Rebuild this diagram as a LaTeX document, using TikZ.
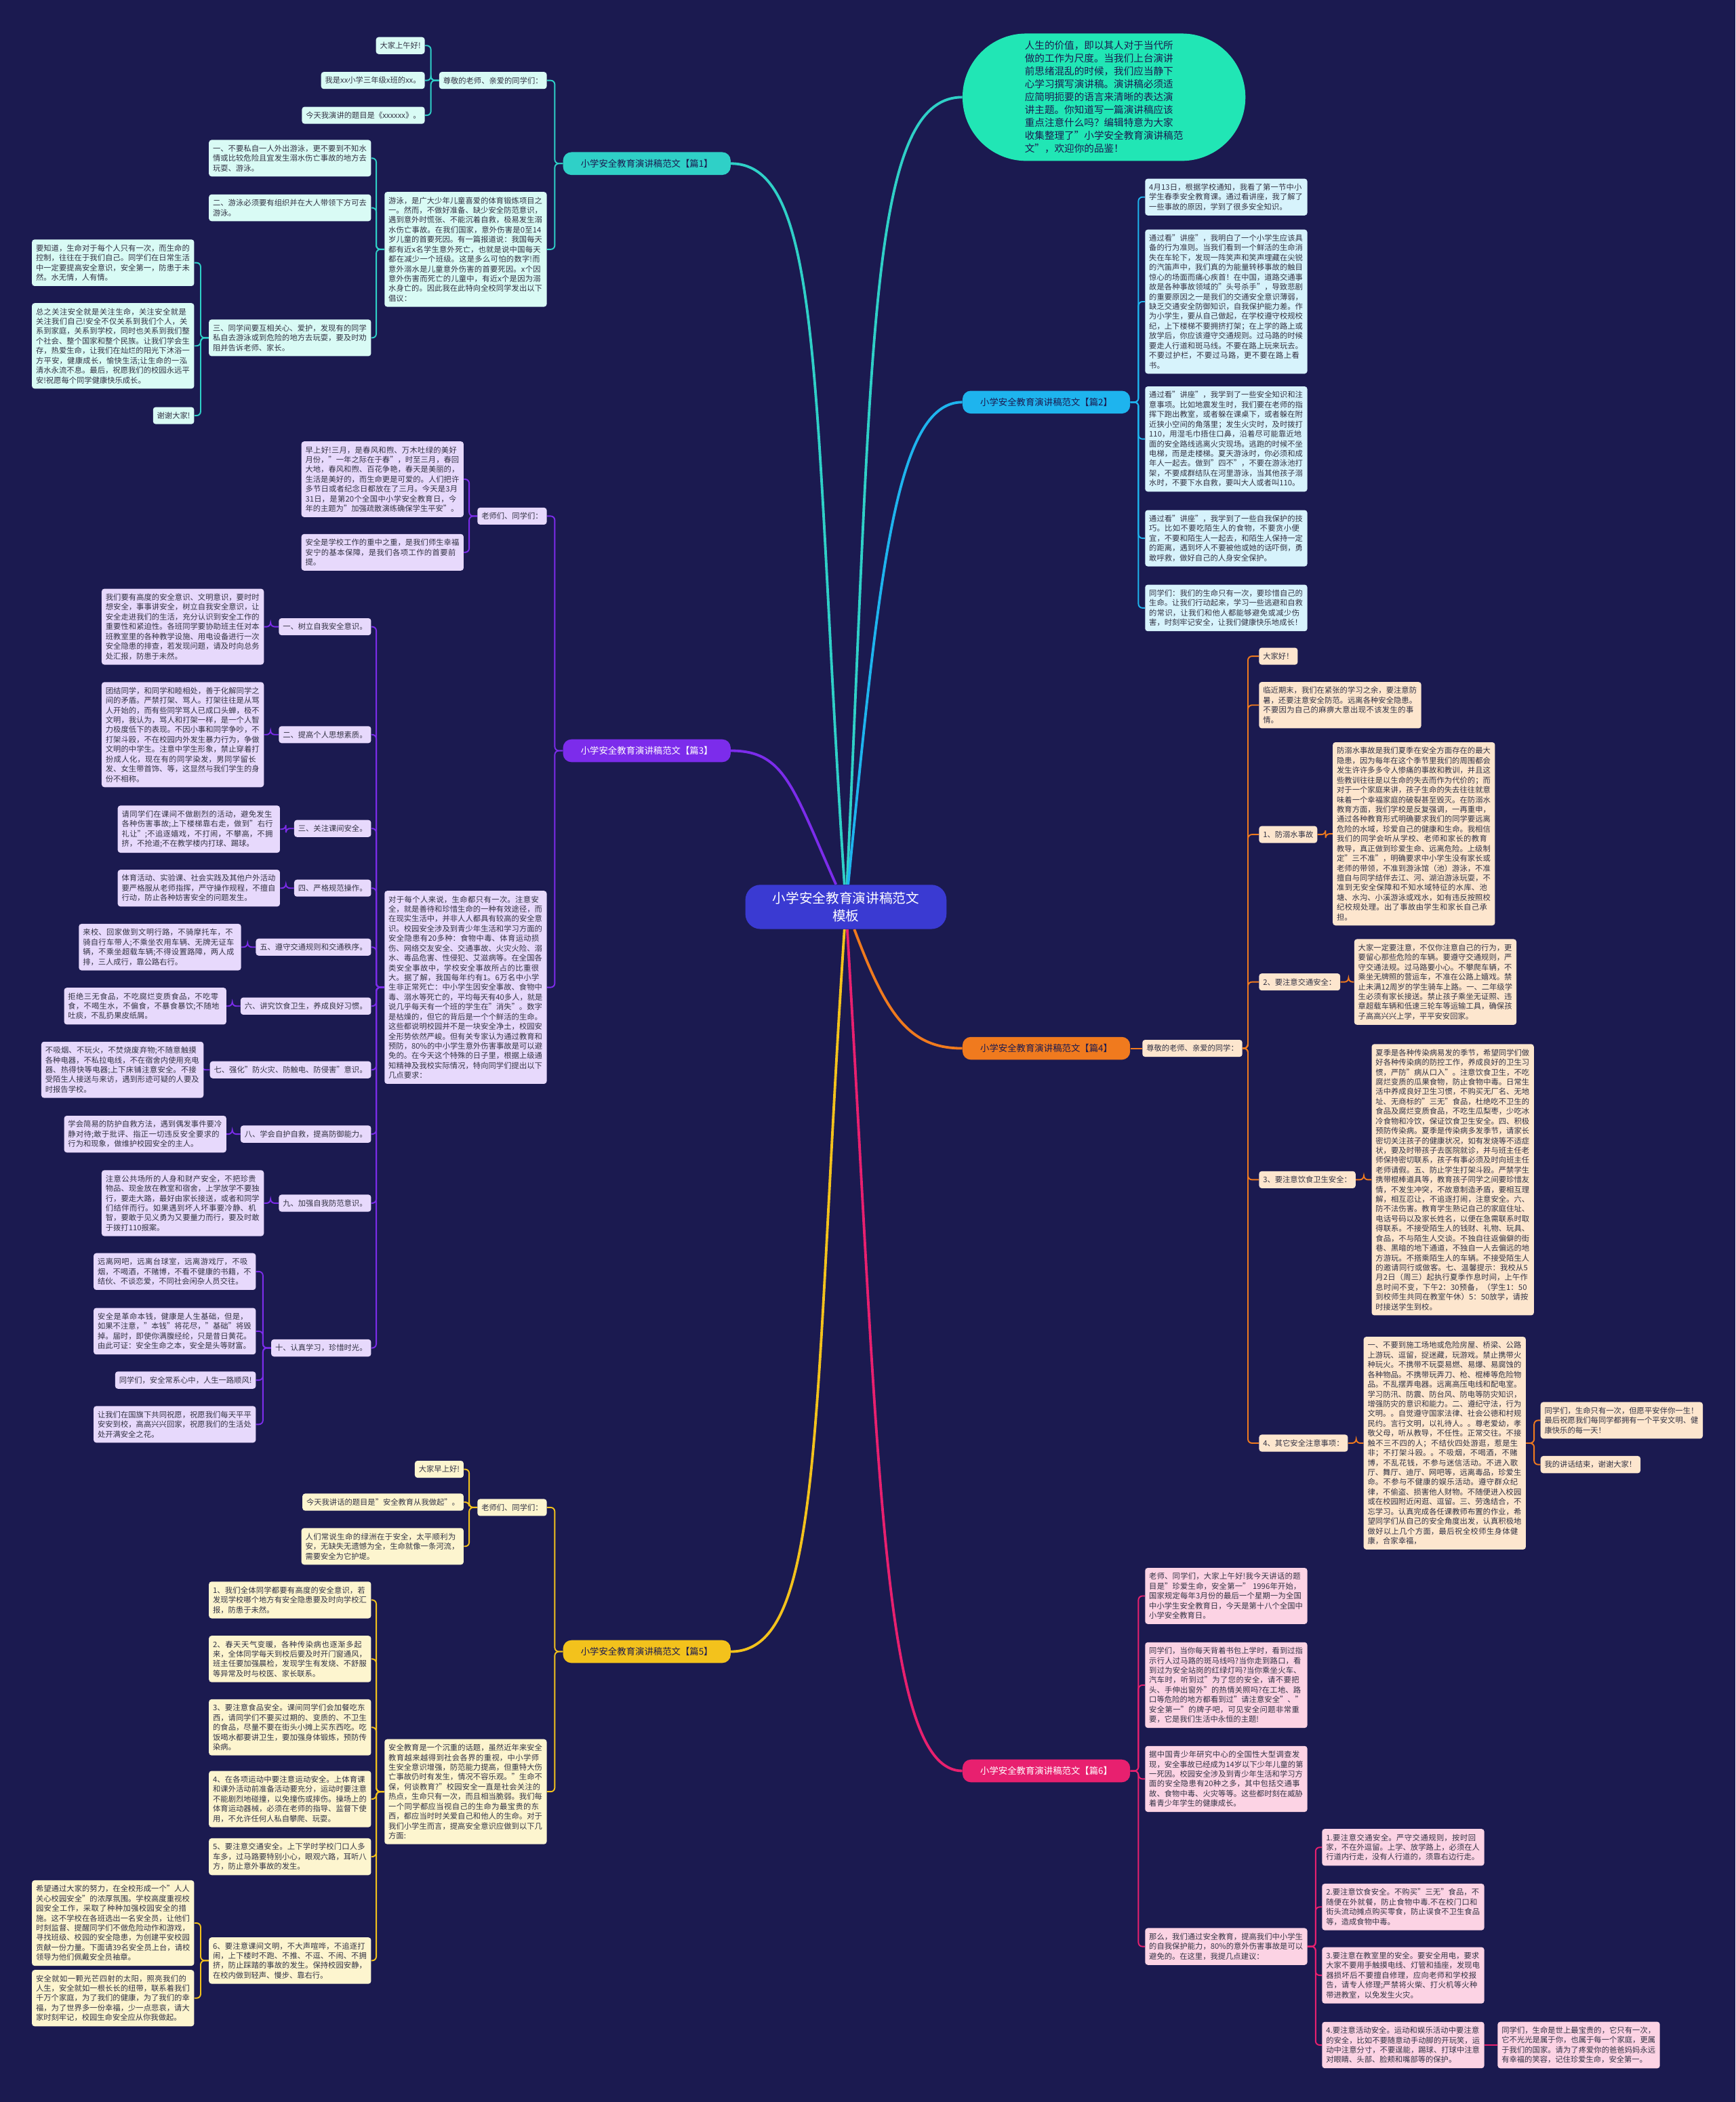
\documentclass[tikz,border=0pt]{standalone}
\usepackage{fontspec}
\setmainfont{Noto Sans CJK SC}
\XeTeXlinebreaklocale "zh"
\XeTeXlinebreakskip = 0pt plus 1pt
\usetikzlibrary{positioning}
\definecolor{bgnavy}{HTML}{1B1A50}
\definecolor{rootblue}{HTML}{3A3AD2}
\definecolor{mint}{HTML}{21E6B5}
\definecolor{leafink}{HTML}{333344}
\definecolor{line1}{HTML}{2FD0C7}\definecolor{fill1}{HTML}{D9FBF5}
\definecolor{line2}{HTML}{1EB4EE}\definecolor{fill2}{HTML}{D7F3FC}
\definecolor{line3}{HTML}{7C2CEB}\definecolor{fill3}{HTML}{E7D9FC}
\definecolor{line4}{HTML}{F07A1E}\definecolor{fill4}{HTML}{FDE6CE}
\definecolor{line5}{HTML}{F3C21C}\definecolor{fill5}{HTML}{FDF5CF}
\definecolor{line6}{HTML}{E8206F}\definecolor{fill6}{HTML}{FCD3E4}
\pgfdeclarelayer{background}
\pgfdeclarelayer{links}
\pgfsetlayers{background,links,main}
\tikzset{
  rootbox/.style={fill=rootblue, text=white, rounded corners=0.45cm, minimum width=6cm, minimum height=1.32cm, align=center, font=\fontsize{11.3}{15}\selectfont},
  bubblebox/.style={fill=mint, text=bgnavy, rounded corners=1.9cm, minimum width=8.44cm, minimum height=3.8cm, align=left, font=\fontsize{8.4}{10.9}\selectfont},
  topicbox/.style={rounded corners=0.25cm, minimum width=5cm, minimum height=0.68cm, inner sep=2pt, font=\fontsize{7.7}{9}\selectfont},
  topic1/.style={topicbox, fill=line1, text=bgnavy},
  topic2/.style={topicbox, fill=line2, text=bgnavy},
  topic3/.style={topicbox, fill=line3, text=white},
  topic4/.style={topicbox, fill=line4, text=bgnavy},
  topic5/.style={topicbox, fill=line5, text=bgnavy},
  topic6/.style={topicbox, fill=line6, text=white},
  leafbox/.style={rounded corners=0.08cm, inner xsep=3.4pt, inner ysep=4.2pt, text=leafink, align=left, font=\fontsize{6.5}{8.3}\selectfont},
  longtext/.style={text width=4.6cm},
  leaf1/.style={leafbox, fill=fill1},
  leaf2/.style={leafbox, fill=fill2},
  leaf3/.style={leafbox, fill=fill3},
  leaf4/.style={leafbox, fill=fill4},
  leaf5/.style={leafbox, fill=fill5},
  leaf6/.style={leafbox, fill=fill6},
  linkbase/.style={line width=1.1pt, rounded corners=1.2mm},
  link1/.style={linkbase, draw=line1},
  link2/.style={linkbase, draw=line2},
  link3/.style={linkbase, draw=line3},
  link4/.style={linkbase, draw=line4},
  link5/.style={linkbase, draw=line5},
  link6/.style={linkbase, draw=line6},
  rootlink/.style={line width=2.2pt}
}
\begin{document}
\begin{tikzpicture}[x=0.04cm, y=-0.04cm]
\begin{pgfonlayer}{background}
  \fill[bgnavy] (0,0) rectangle (1294.5,1568);
\end{pgfonlayer}
\useasboundingbox (0,0) rectangle (1294.5,1568);

\node[rootbox] (root) at (631,676.5) {小学安全教育演讲稿范文\\模板};
\node[bubblebox] (intro) at (823.5,72.5) {人生的价值，即以其人对于当代所\\做的工作为尺度。当我们上台演讲\\前思绪混乱的时候，我们应当静下\\心学习撰写演讲稿。演讲稿必须适\\应简明扼要的语言来清晰的表达演\\讲主题。你知道写一篇演讲稿应该\\重点注意什么吗？编辑特意为大家\\收集整理了"小学安全教育演讲稿范\\文"，欢迎你的品鉴！};

\node[topic1] (p1) at (482.5,122) {小学安全教育演讲稿范文【篇1】};
\node[topic2] (p2) at (780.5,300) {小学安全教育演讲稿范文【篇2】};
\node[topic3] (p3) at (482.5,560) {小学安全教育演讲稿范文【篇3】};
\node[topic4] (p4) at (780.5,782) {小学安全教育演讲稿范文【篇4】};
\node[topic5] (p5) at (482.5,1232) {小学安全教育演讲稿范文【篇5】};
\node[topic6] (p6) at (780.5,1321) {小学安全教育演讲稿范文【篇6】};

% 篇1
\node[leaf1, anchor=east] (a1) at (408,60) {尊敬的老师、亲爱的同学们：};
\node[leaf1, anchor=east] (a1x) at (317,34) {大家上午好!};
\node[leaf1, anchor=east] (a1y) at (317,60) {我是xx小学三年级x班的xx。};
\node[leaf1, anchor=east] (a1z) at (317,86) {今天我演讲的题目是《xxxxxx》。};
\node[leaf1, longtext, anchor=east] (b1) at (408,186) {游泳，是广大少年儿童喜爱的体育锻炼项目之一。然而，不做好准备、缺少安全防范意识，遇到意外时慌张、不能沉着自救，极易发生溺水伤亡事故。在我们国家，意外伤害是0至14岁儿童的首要死因。有一篇报道说：我国每天都有近x名学生意外死亡，也就是说中国每天都在减少一个班级。这是多么可怕的数字!而意外溺水是儿童意外伤害的首要死因。x个因意外伤害而死亡的儿童中，有近x个是因为溺水身亡的。因此我在此特向全校同学发出以下倡议：};
\node[leaf1, longtext, anchor=east] (c1) at (277,118) {一、不要私自一人外出游泳，更不要到不知水情或比较危险且宜发生溺水伤亡事故的地方去玩耍、游泳。};
\node[leaf1, longtext, anchor=east] (c2) at (277,155) {二、游泳必须要有组织并在大人带领下方可去游泳。};
\node[leaf1, longtext, anchor=east] (c3) at (277,252) {三、同学间要互相关心、爱护，发现有的同学私自去游泳或到危险的地方去玩耍，要及时劝阻并告诉老师、家长。};
\node[leaf1, longtext, anchor=east] (d1) at (145,196) {要知道，生命对于每个人只有一次，而生命的控制，往往在于我们自己。同学们在日常生活中一定要提高安全意识，安全第一，防患于未然。水无情，人有情。};
\node[leaf1, longtext, anchor=east] (d2) at (145,258) {总之关注安全就是关注生命，关注安全就是关注我们自己!安全不仅关系到我们个人，关系到家庭，关系到学校，同时也关系到我们整个社会、整个国家和整个民族。让我们学会生存，热爱生命，让我们在灿烂的阳光下沐浴一方平安，健康成长，愉快生活;让生命的一泓清水永流不息。最后，祝愿我们的校园永远平安!祝愿每个同学健康快乐成长。};
\node[leaf1, anchor=east] (d3) at (145,310) {谢谢大家!};

% 篇2
\node[leaf2, longtext, anchor=west] (e1) at (854,147) {4月13日，根据学校通知，我看了第一节中小学生春季安全教育课。通过看讲座，我了解了一些事故的原因，学到了很多安全知识。};
\node[leaf2, longtext, anchor=west] (e2) at (854,225) {通过看"讲座"，我明白了一个小学生应该具备的行为准则。当我们看到一个鲜活的生命消失在车轮下，发现一阵笑声和笑声埋藏在尖锐的汽笛声中，我们真的为能量转移事故的触目惊心的场面而痛心疾首！在中国，道路交通事故是各种事故领域的"头号杀手"，导致悲剧的重要原因之一是我们的交通安全意识薄弱，缺乏交通安全防御知识，自我保护能力差。作为小学生，要从自己做起，在学校遵守校规校纪，上下楼梯不要拥挤打架；在上学的路上或放学后，你应该遵守交通规则。过马路的时候要走人行道和斑马线。不要在路上玩来玩去。不要过护栏，不要过马路，更不要在路上看书。};
\node[leaf2, longtext, anchor=west] (e3) at (854,327.5) {通过看"讲座"，我学到了一些安全知识和注意事项。比如地震发生时，我们要在老师的指挥下跑出教室，或者躲在课桌下，或者躲在附近狭小空间的角落里；发生火灾时，及时拨打110，用湿毛巾捂住口鼻，沿着尽可能靠近地面的安全路线逃离火灾现场。逃跑的时候不坐电梯，而是走楼梯。夏天游泳时，你必须和成年人一起去。做到"四不"，不要在游泳池打架，不要成群结队在河里游泳，当其他孩子溺水时，不要下水自救，要叫大人或者叫110。};
\node[leaf2, longtext, anchor=west] (e4) at (854,401.5) {通过看"讲座"，我学到了一些自我保护的技巧。比如不要吃陌生人的食物，不要贪小便宜，不要和陌生人一起去，和陌生人保持一定的距离，遇到坏人不要被他或她的话吓倒，勇敢呼救，做好自己的人身安全保护。};
\node[leaf2, longtext, anchor=west] (e5) at (854,453.5) {同学们：我们的生命只有一次，要珍惜自己的生命。让我们行动起来，学习一些逃避和自救的常识，让我们和他人都能够避免或减少伤害，时刻牢记安全，让我们健康快乐地成长！};

% 篇3
\node[leaf3, anchor=east] (f1) at (408,385) {老师们、同学们：};
\node[leaf3, longtext, anchor=east] (f1a) at (346,357.5) {早上好!三月，是春风和煦、万木吐绿的美好月份，"一年之际在于春"，时至三月，春回大地，春风和煦、百花争艳，春天是美丽的，生活是美好的，而生命更是可爱的。人们把许多节日或者纪念日都放在了三月。今天是3月31日，是第20个全国中小学安全教育日，今年的主题为"加强疏散演练确保学生平安"。};
\node[leaf3, longtext, anchor=east] (f1b) at (346,412) {安全是学校工作的重中之重，是我们师生幸福安宁的基本保障，是我们各项工作的首要前提。};
\node[leaf3, longtext, anchor=east] (f2) at (408,736.5) {对于每个人来说，生命都只有一次。注意安全，就是善待和珍惜生命的一种有效途径，而在现实生活中，并非人人都具有较高的安全意识。校园安全涉及到青少年生活和学习方面的安全隐患有20多种：食物中毒、体育运动损伤、网络交友安全、交通事故、火灾火险、溺水、毒品危害、性侵犯、艾滋病等。在全国各类安全事故中，学校安全事故所占的比重很大。据了解，我国每年约有1。6万名中小学生非正常死亡：中小学生因安全事故、食物中毒、溺水等死亡的，平均每天有40多人，就是说几乎每天有一个班的学生在"消失"。数字是枯燥的，但它的背后是一个个鲜活的生命。这些都说明校园并不是一块安全净土，校园安全形势依然严峻。但有关专家认为通过教育和预防，80\%的中小学生意外伤害事故是可以避免的。在今天这个特殊的日子里，根据上级通知精神及我校实际情况，特向同学们提出以下几点要求：};
\node[leaf3, anchor=east] (g1) at (277,467.5) {一、树立自我安全意识。};
\node[leaf3, anchor=east] (g2) at (277,548) {二、提高个人思想素质。};
\node[leaf3, anchor=east] (g3) at (277,618) {三、关注课间安全。};
\node[leaf3, anchor=east] (g4) at (277,662.5) {四、严格规范操作。};
\node[leaf3, anchor=east] (g5) at (277,706.5) {五、遵守交通规则和交通秩序。};
\node[leaf3, anchor=east] (g6) at (277,750.5) {六、讲究饮食卫生，养成良好习惯。};
\node[leaf3, anchor=east] (g7) at (277,798) {七、强化"防火灾、防触电、防侵害"意识。};
\node[leaf3, anchor=east] (g8) at (277,846) {八、学会自护自救，提高防御能力。};
\node[leaf3, anchor=east] (g9) at (277,897.5) {九、加强自我防范意识。};
\node[leaf3, anchor=east] (g10) at (277,1005.5) {十、认真学习，珍惜时光。};
\node[leaf3, longtext, anchor=east] (h1) at (197,467.5) {我们要有高度的安全意识、文明意识，要时时想安全，事事讲安全，树立自我安全意识，让安全走进我们的生活，充分认识到安全工作的重要性和紧迫性。各班同学要协助班主任对本班教室里的各种教学设施、用电设备进行一次安全隐患的排查，若发现问题，请及时向总务处汇报，防患于未然。};
\node[leaf3, longtext, anchor=east] (h2) at (197,548) {团结同学，和同学和睦相处，善于化解同学之间的矛盾。严禁打架、骂人。打架往往是从骂人开始的，而有些同学骂人已成口头蝉，极不文明，我认为，骂人和打架一样，是一个人智力极度低下的表现。不因小事和同学争吵，不打架斗殴，不在校园内外发生暴力行为，争做文明的中学生。注意中学生形象，禁止穿着打扮成人化，现在有的同学染发，男同学留长发、女生带首饰、等，这显然与我们学生的身份不相称。};
\node[leaf3, longtext, anchor=east] (h3) at (209,618.5) {请同学们在课间不做剧烈的活动，避免发生各种伤害事故;上下楼梯靠右走，做到"右行礼让";不追逐嬉戏，不打闹，不攀高，不拥挤，不抢道;不在教学楼内打球、踢球。};
\node[leaf3, longtext, anchor=east] (h4) at (209,662.5) {体育活动、实验课、社会实践及其他户外活动要严格服从老师指挥，严守操作规程，不擅自行动，防止各种妨害安全的问题发生。};
\node[leaf3, longtext, anchor=east] (h5) at (180,706.5) {来校、回家做到文明行路，不骑摩托车，不骑自行车带人;不乘坐农用车辆、无牌无证车辆，不乘坐超载车辆;不得设置路障，两人成排，三人成行，靠公路右行。};
\node[leaf3, longtext, anchor=east] (h6) at (169,750.5) {拒绝三无食品，不吃腐烂变质食品，不吃零食，不喝生水，不偏食，不暴食暴饮;不随地吐痰，不乱扔果皮纸屑。};
\node[leaf3, longtext, anchor=east] (h7) at (152,798) {不吸烟、不玩火，不焚烧废弃物;不随意触摸各种电器，不私拉电线，不在宿舍内使用充电器、热得快等电器;上下床铺注意安全。不接受陌生人接送与来访，遇到形迹可疑的人要及时报告学校。};
\node[leaf3, longtext, anchor=east] (h8) at (169,846) {学会简易的防护自救方法，遇到偶发事件要冷静对待;敢于批评、指正一切违反安全要求的行为和现象，做维护校园安全的主人。};
\node[leaf3, longtext, anchor=east] (h9) at (197,897.5) {注意公共场所的人身和财产安全，不把珍贵物品、现金放在教室和宿舍，上学放学不要独行，要走大路，最好由家长接送，或者和同学们结伴而行。如果遇到坏人坏事要冷静、机智，要敢于见义勇为又要量力而行，要及时敢于拨打110报案。};
\node[leaf3, longtext, anchor=east] (h10a) at (191,948.5) {远离网吧，远离台球室，远离游戏厅，不吸烟，不喝酒，不赌博，不看不健康的书籍，不结伙、不谈恋爱，不同社会闲杂人员交往。};
\node[leaf3, longtext, anchor=east] (h10b) at (191,993) {安全是革命本钱，健康是人生基础，但是，如果不注意，"本钱"将花尽，"基础"将毁掉。届时，即使你满腹经纶，只是昔日黄花。由此可证：安全生命之本，安全是头等财富。};
\node[leaf3, anchor=east] (h10c) at (191,1029.5) {同学们，安全常系心中，人生一路顺风!};
\node[leaf3, longtext, anchor=east] (h10d) at (191,1062.5) {让我们在国旗下共同祝愿，祝愿我们每天平平安安到校，高高兴兴回家，祝愿我们的生活处处开满安全之花。};

% 篇4
\node[leaf4, anchor=west] (k0) at (852,782) {尊敬的老师、亲爱的同学：};
\node[leaf4, anchor=west] (k1) at (939,489.5) {大家好！};
\node[leaf4, longtext, anchor=west] (k2) at (939,526) {临近期末，我们在紧张的学习之余，要注意防暑，还要注意安全防范。远离各种安全隐患。不要因为自己的麻痹大意出现不该发生的事情。};
\node[leaf4, anchor=west] (k3) at (939,622.5) {1、防溺水事故};
\node[leaf4, anchor=west] (k4) at (939,732.5) {2、要注意交通安全：};
\node[leaf4, anchor=west] (k5) at (939,880) {3、要注意饮食卫生安全：};
\node[leaf4, anchor=west] (k6) at (939,1076.5) {4、其它安全注意事项：};
\node[leaf4, longtext, anchor=west] (m3) at (994,622) {防溺水事故是我们夏季在安全方面存在的最大隐患，因为每年在这个季节里我们的周围都会发生许许多多令人惨痛的事故和教训，并且这些教训往往是以生命的失去而作为代价的；而对于一个家庭来讲，孩子生命的失去往往就意味着一个幸福家庭的破裂甚至毁灭。在防溺水教育方面，我们学校是反复强调，一再重申，通过各种教育形式明确要求我们的同学要远离危险的水域，珍爱自己的健康和生命。我相信我们的同学会听从学校、老师和家长的教育教导，真正做到珍爱生命、远离危险。上级制定"三不准"，明确要求中小学生没有家长或老师的带领，不准到游泳馆（池）游泳，不准擅自与同学结伴去江、河、湖泊游泳玩耍，不准到无安全保障和不知水域特征的水库、池塘、水沟、小溪游泳或戏水，如有违反按照校纪校规处理。出了事故由学生和家长自己承担。};
\node[leaf4, longtext, anchor=west] (m4) at (1010,732.5) {大家一定要注意，不仅你注意自己的行为，更要留心那些危险的车辆。要遵守交通规则，严守交通法规。过马路要小心。不攀爬车辆，不乘坐无牌照的营运车，不准在公路上嬉戏。禁止未满12周岁的学生骑车上路。一、二年级学生必须有家长接送。禁止孩子乘坐无证照、违章超载车辆和低速三轮车等运输工具，确保孩子高高兴兴上学，平平安安回家。};
\node[leaf4, longtext, anchor=west] (m5) at (1023,880) {夏季是各种传染病易发的季节，希望同学们做好各种传染病的防控工作，养成良好的卫生习惯，严防"病从口入"。注意饮食卫生，不吃腐烂变质的瓜果食物，防止食物中毒。日常生活中养成良好卫生习惯，不购买无厂名、无地址、无商标的"三无"食品，杜绝吃不卫生的食品及腐烂变质食品，不吃生瓜梨枣，少吃冰冷食物和冷饮，保证饮食卫生安全。四、积极预防传染病。夏季是传染病多发季节，请家长密切关注孩子的健康状况，如有发烧等不适症状，要及时带孩子去医院就诊，并与班主任老师保持密切联系，孩子有事必须及时向班主任老师请假。五、防止学生打架斗殴。严禁学生携带棍棒道具等，教育孩子同学之间要珍惜友情，不发生冲突，不故意制造矛盾，要相互理解，相互忍让，不追逐打闹，注意安全。六、防不法伤害。教育学生熟记自己的家庭住址、电话号码以及家长姓名，以便在急需联系时取得联系。不接受陌生人的钱财、礼物、玩具、食品，不与陌生人交谈。不独自往返偏僻的街巷、黑暗的地下通道，不独自一人去偏远的地方游玩。不搭乘陌生人的车辆。不接受陌生人的邀请同行或做客。七、温馨提示：我校从5月2日（周三）起执行夏季作息时间，上午作息时间不变，下午2：30预备，（学生1：50到校师生共同在教室午休）5：50放学，请按时接送学生到校。};
\node[leaf4, longtext, anchor=west] (m6) at (1017,1076.5) {一、不要到施工场地或危险房屋、桥梁、公路上游玩、逗留，捉迷藏，玩游戏。禁止携带火种玩火。不携带不玩耍易燃、易爆、易腐蚀的各种物品。不携带玩弄刀、枪、棍棒等危险物品。不乱摆弄电器。远离高压电线和配电室。学习防汛、防震、防台风、防电等防灾知识，增强防灾的意识和能力。二、遵纪守法，行为文明。。自觉遵守国家法律、社会公德和村规民约。言行文明，以礼待人。。尊老爱幼，孝敬父母，听从教导，不任性。正常交往。不接触不三不四的人；不结伙四处游逛，惹是生非；不打架斗殴。。不吸烟，不喝酒，不赌博，不乱花钱，不参与迷信活动。不进入歌厅、舞厅、迪厅、网吧等，远离毒品，珍爱生命。不参与不健康的娱乐活动。遵守群众纪律，不偷盗、损害他人财物。不随便进入校园或在校园附近闲逛、逗留。三、劳逸结合，不忘学习。认真完成各任课教师布置的作业，希望同学们从自己的安全角度出发，认真积极地做好以上几个方面，最后祝全校师生身体健康，合家幸福，};
\node[leaf4, longtext, anchor=west] (n1) at (1149,1059.5) {同学们，生命只有一次，但愿平安伴你一生！最后祝愿我们每同学都拥有一个平安文明、健康快乐的每一天！};
\node[leaf4, anchor=west] (n2) at (1149,1092.5) {我的讲话结束，谢谢大家！};

% 篇5
\node[leaf5, anchor=east] (q0) at (408,1124.5) {老师们、同学们：};
\node[leaf5, anchor=east] (q1) at (346,1096) {大家早上好!};
\node[leaf5, anchor=east] (q2) at (346,1120.5) {今天我讲话的题目是"安全教育从我做起"。};
\node[leaf5, longtext, anchor=east] (q3) at (346,1153.5) {人们常说生命的绿洲在于安全，太平顺利为安，无缺失无遗憾为全，生命就像一条河流，需要安全为它护堤。};
\node[leaf5, longtext, anchor=east] (r0) at (408,1336.5) {安全教育是一个沉重的话题，虽然近年来安全教育越来越得到社会各界的重视，中小学师生安全意识增强，防范能力提高，但重特大伤亡事故仍时有发生，情况不容乐观。"生命不保，何谈教育?"校园安全一直是社会关注的热点，生命只有一次，而且相当脆弱。我们每一个同学都应当视自己的生命为最宝贵的东西，都应当时时关爱自己和他人的生命。对于我们小学生而言，提高安全意识应做到以下几方面:};
\node[leaf5, longtext, anchor=east] (r1) at (277,1193.5) {1、我们全体同学都要有高度的安全意识，若发现学校哪个地方有安全隐患要及时向学校汇报，防患于未然。};
\node[leaf5, longtext, anchor=east] (r2) at (277,1237.5) {2、春天天气变暖，各种传染病也逐渐多起来，全体同学每天到校后要及时开门窗通风，班主任要加强晨检，发现学生有发烧、不舒服等异常及时与校医、家长联系。};
\node[leaf5, longtext, anchor=east] (r3) at (277,1288.5) {3、要注意食品安全。课间同学们会加餐吃东西，请同学们不要买过期的、变质的、不卫生的食品，尽量不要在街头小摊上买东西吃。吃饭喝水都要讲卫生，要加强身体锻炼，预防传染病。};
\node[leaf5, longtext, anchor=east] (r4) at (277,1342) {4、在各项运动中要注意运动安全。上体育课和课外活动前准备活动要充分，运动时要注意不能剧烈地碰撞，以免撞伤或摔伤。操场上的体育运动器械，必须在老师的指导、监督下使用，不允许任何人私自攀爬、玩耍。};
\node[leaf5, longtext, anchor=east] (r5) at (277,1385) {5、要注意交通安全。上下学时学校门口人多车多，过马路要特别小心，眼观六路，耳听八方，防止意外事故的发生。};
\node[leaf5, longtext, anchor=east] (r6) at (277,1462.5) {6、要注意课间文明，不大声喧哗，不追逐打闹，上下楼时不跑、不推、不逗、不闹、不拥挤，防止踩踏的事故的发生。保持校园安静，在校内做到轻声、慢步、靠右行。};
\node[leaf5, longtext, anchor=east] (s1) at (145,1434.5) {希望通过大家的努力，在全校形成一个"人人关心校园安全"的浓厚氛围。学校高度重视校园安全工作，采取了种种加强校园安全的措施。这不学校在各班选出一名安全员，让他们时刻监督、提醒同学们不做危险动作和游戏，寻找班级、校园的安全隐患，为创建平安校园贡献一份力量。下面请39名安全员上台，请校领导为他们佩戴安全员袖章。};
\node[leaf5, longtext, anchor=east] (s2) at (145,1490.5) {安全就如一颗光芒四射的太阳，照亮我们的人生，安全就如一根长长的纽带，联系着我们千万个家庭，为了我们的健康，为了我们的幸福，为了世界多一份幸福，少一点悲哀，请大家时刻牢记，校园生命安全应从你我做起。};

% 篇6
\node[leaf6, longtext, anchor=west] (w1) at (854,1190.5) {老师、同学们，大家上午好!我今天讲话的题目是"珍爱生命，安全第一" 1996年开始，国家规定每年3月份的最后一个星期一为全国中小学生安全教育日，今天是第十八个全国中小学安全教育日。};
\node[leaf6, longtext, anchor=west] (w2) at (854,1257) {同学们，当你每天背着书包上学时，看到过指示行人过马路的斑马线吗?当你走到路口，看到过为安全站岗的红绿灯吗?当你乘坐火车、汽车时，听到过"为了您的安全，请不要把头、手伸出窗外"的热情关照吗?在工地、路口等危险的地方都看到过"请注意安全"、"安全第一"的牌子吧，可见安全问题非常重要，它是我们生活中永恒的主题!};
\node[leaf6, longtext, anchor=west] (w3) at (854,1327) {据中国青少年研究中心的全国性大型调查发现，安全事故已经成为14岁以下少年儿童的第一死因。校园安全涉及到青少年生活和学习方面的安全隐患有20种之多，其中包括交通事故、食物中毒、火灾等等。这些都时刻在威胁着青少年学生的健康成长。};
\node[leaf6, longtext, anchor=west] (w4) at (854,1452) {那么，我们通过安全教育，提高我们中小学生的自我保护能力，80\%的意外伤害事故是可以避免的。在这里，我提几点建议：};
\node[leaf6, longtext, anchor=west] (u1) at (986,1378) {1.要注意交通安全。严守交通规则，按时回家，不在外逗留。上学、放学路上，必须在人行道内行走，没有人行道的，须靠右边行走。};
\node[leaf6, longtext, anchor=west] (u2) at (986,1422.5) {2.要注意饮食安全。不购买"三无"食品，不随便在外就餐，防止食物中毒.不在校门口和街头流动摊点购买零食，防止误食不卫生食品等，造成食物中毒。};
\node[leaf6, longtext, anchor=west] (u3) at (986,1473.5) {3.要注意在教室里的安全。要安全用电，要求大家不要用手触摸电线、灯管和插座，发现电器损坏后不要擅自修理，应向老师和学校报告，请专人修理;严禁将火柴、打火机等火种带进教室，以免发生火灾。};
\node[leaf6, longtext, anchor=west] (u4) at (986,1525.5) {4.要注意活动安全。运动和娱乐活动中要注意的安全，比如不要随意动手动脚的开玩笑，运动中注意分寸，不要逞能，踢球、打球中注意对眼睛、头部、脸颊和嘴部等的保护。};
\node[leaf6, longtext, anchor=west] (v1) at (1117,1525.5) {同学们，生命是世上最宝贵的，它只有一次，它不光光是属于你，也属于每一个家庭，更属于我们的国家。请为了疼爱你的爸爸妈妈永远有幸福的笑容，记住珍爱生命，安全第一。};

\begin{pgfonlayer}{links}
  \draw[rootlink, line1] (root) .. controls +(-25,-380) and +(70,0) .. (p1.east);
  \draw[rootlink, line1] (root) .. controls +(20,-420) and +(-70,0) .. (intro.west);
  \draw[rootlink, line2] (root) .. controls +(25,-250) and +(-50,0) .. (p2.west);
  \draw[rootlink, line3] (root) .. controls +(-40,-90) and +(40,0) .. (p3.east);
  \draw[rootlink, line4] (root) .. controls +(30,80) and +(-40,0) .. (p4.west);
  \draw[rootlink, line5] (root) .. controls +(-25,380) and +(70,0) .. (p5.east);
  \draw[rootlink, line6] (root) .. controls +(25,420) and +(-60,0) .. (p6.west);

  \foreach \c in {a1,b1} \draw[link1] (p1.west) -- ++(-6,0) |- (\c.east);
  \foreach \c in {a1x,a1y,a1z} \draw[link1] (a1.west) -- ++(-6,0) |- (\c.east);
  \foreach \c in {c1,c2,c3} \draw[link1] (b1.west) -- ++(-6,0) |- (\c.east);
  \foreach \c in {d1,d2,d3} \draw[link1] (c3.west) -- ++(-6,0) |- (\c.east);

  \foreach \c in {e1,e2,e3,e4,e5} \draw[link2] (p2.east) -- ++(6,0) |- (\c.west);

  \foreach \c in {f1,f2} \draw[link3] (p3.west) -- ++(-6,0) |- (\c.east);
  \foreach \c in {f1a,f1b} \draw[link3] (f1.west) -- ++(-6,0) |- (\c.east);
  \foreach \c in {g1,g2,g3,g4,g5,g6,g7,g8,g9,g10} \draw[link3] (f2.west) -- ++(-6,0) |- (\c.east);
  \foreach \i in {1,...,9} \draw[link3] (g\i.west) -- ++(-6,0) |- (h\i.east);
  \foreach \c in {h10a,h10b,h10c,h10d} \draw[link3] (g10.west) -- ++(-6,0) |- (\c.east);

  \draw[link4] (p4.east) -- (k0.west);
  \foreach \c in {k1,k2,k3,k4,k5,k6} \draw[link4] (k0.east) -- ++(4,0) |- (\c.west);
  \foreach \i in {3,4,5,6} \draw[link4] (k\i.east) -- ++(6,0) |- (m\i.west);
  \foreach \c in {n1,n2} \draw[link4] (m6.east) -- ++(6,0) |- (\c.west);

  \foreach \c in {q0,r0} \draw[link5] (p5.west) -- ++(-6,0) |- (\c.east);
  \foreach \c in {q1,q2,q3} \draw[link5] (q0.west) -- ++(-6,0) |- (\c.east);
  \foreach \c in {r1,r2,r3,r4,r5,r6} \draw[link5] (r0.west) -- ++(-6,0) |- (\c.east);
  \foreach \c in {s1,s2} \draw[link5] (r6.west) -- ++(-6,0) |- (\c.east);

  \foreach \c in {w1,w2,w3,w4} \draw[link6] (p6.east) -- ++(6,0) |- (\c.west);
  \foreach \c in {u1,u2,u3,u4} \draw[link6] (w4.east) -- ++(6,0) |- (\c.west);
  \draw[link6] (u4.east) -- (v1.west);
\end{pgfonlayer}
\end{tikzpicture}
\end{document}
